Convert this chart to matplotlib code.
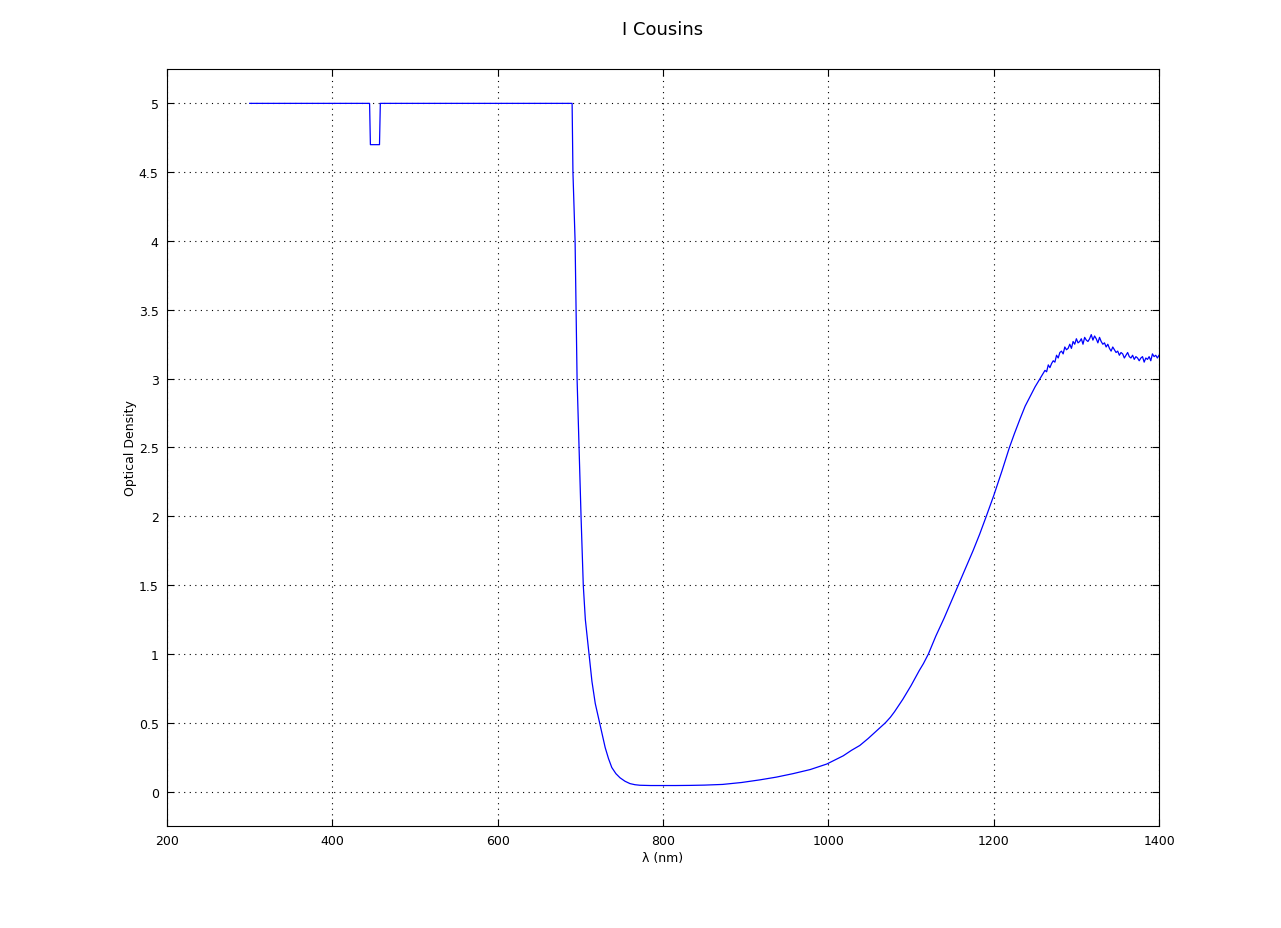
import matplotlib.pyplot as plt
from matplotlib.ticker import FuncFormatter

# wavelength (nm) and optical density
wl_flat = [300, 445, 446, 457, 458, 690]
od_flat = [5.0, 5.0, 4.70, 4.70, 5.0, 5.0]

wl_edge = [691, 693.6, 694.8, 696, 698.4, 700.8, 703.5, 706, 710.5, 714, 718,
           721, 724, 727, 730, 734, 738, 743, 748, 754, 760, 766, 772, 785, 800,
           815, 833, 850, 872, 895, 917, 937, 957, 978, 998, 1008, 1018, 1028,
           1038, 1048, 1058, 1069, 1075, 1080, 1085, 1090, 1095, 1100, 1105,
           1110, 1115, 1121, 1130, 1140, 1150, 1157, 1165, 1175, 1183, 1191,
           1200, 1210, 1219, 1225, 1232, 1238, 1244, 1250, 1256]
od_edge = [4.5, 4.0, 3.5, 3.0, 2.5, 2.0, 1.5, 1.25, 1.0, 0.80, 0.64,
           0.56, 0.48, 0.40, 0.32, 0.24, 0.175, 0.13, 0.10, 0.075, 0.058, 0.05, 0.046, 0.044, 0.044,
           0.044, 0.045, 0.047, 0.052, 0.066, 0.085, 0.105, 0.13, 0.16, 0.20, 0.23, 0.26, 0.30,
           0.335, 0.385, 0.44, 0.5, 0.54, 0.58, 0.625, 0.67, 0.72, 0.77, 0.825,
           0.88, 0.93, 1.0, 1.13, 1.26, 1.40, 1.5, 1.61, 1.75, 1.87, 2.0,
           2.15, 2.33, 2.5, 2.60, 2.71, 2.80, 2.87, 2.94, 3.0]

wl_noisy = [1258, 1260, 1262, 1264, 1266, 1268, 1270, 1272, 1274, 1276, 1278,
            1280, 1282, 1284, 1286, 1288, 1290, 1292, 1294, 1296, 1298, 1300,
            1302, 1304, 1306, 1308, 1310, 1312, 1314, 1316, 1318, 1320, 1322,
            1324, 1326, 1328, 1330, 1332, 1334, 1336, 1338, 1340, 1342, 1344,
            1346, 1348, 1350, 1352, 1354, 1356, 1358, 1360, 1362, 1364, 1366,
            1368, 1370, 1372, 1374, 1376, 1378, 1380, 1382, 1384, 1386, 1388,
            1390, 1392, 1394, 1396, 1398, 1400]
od_noisy = [3.02, 3.04, 3.06, 3.05, 3.10, 3.08, 3.11, 3.13, 3.12, 3.17, 3.15,
            3.19, 3.20, 3.18, 3.23, 3.21, 3.22, 3.25, 3.22, 3.27, 3.25, 3.29,
            3.26, 3.27, 3.29, 3.25, 3.30, 3.28, 3.27, 3.29, 3.32, 3.28, 3.31,
            3.29, 3.26, 3.30, 3.27, 3.25, 3.26, 3.23, 3.25, 3.22, 3.20, 3.23,
            3.21, 3.19, 3.20, 3.17, 3.19, 3.18, 3.15, 3.17, 3.19, 3.16, 3.15,
            3.17, 3.14, 3.16, 3.15, 3.13, 3.15, 3.16, 3.12, 3.15, 3.14, 3.16,
            3.13, 3.18, 3.16, 3.17, 3.15, 3.17]

wl = wl_flat + wl_edge + wl_noisy
od = od_flat + od_edge + od_noisy

xticks = [200, 400, 600, 800, 1000, 1200, 1400]
yticks = [0, 0.5, 1, 1.5, 2, 2.5, 3, 3.5, 4, 4.5, 5]

fig = plt.figure(figsize=(12.81, 9.29), dpi=100)
ax = fig.add_axes([0.1304, 0.1098, 0.7744, 0.8149])

ax.plot(wl, od, color='#0000ff', linewidth=0.9)

ax.set_xlim(200, 1400)
ax.set_ylim(-0.25, 5.25)
ax.set_xticks(xticks)
ax.set_yticks(yticks)
ax.yaxis.set_major_formatter(FuncFormatter(lambda v, p: '%g' % v))

# matlab-like look: inward ticks on all sides, dotted grid
ax.tick_params(direction='in', top=True, right=True, length=5, width=0.8,
               labelsize=9, pad=6)
ax.grid(True, linestyle=(0, (1, 4)), color='black', linewidth=0.8)
for s in ax.spines.values():
    s.set_linewidth(0.8)

ax.set_title('I Cousins', fontsize=13, pad=25.5)
ax.set_xlabel('λ (nm)', fontsize=9, labelpad=3)
ax.set_ylabel('Optical Density', fontsize=9, labelpad=1)

fig.savefig('out.png', dpi=100)
